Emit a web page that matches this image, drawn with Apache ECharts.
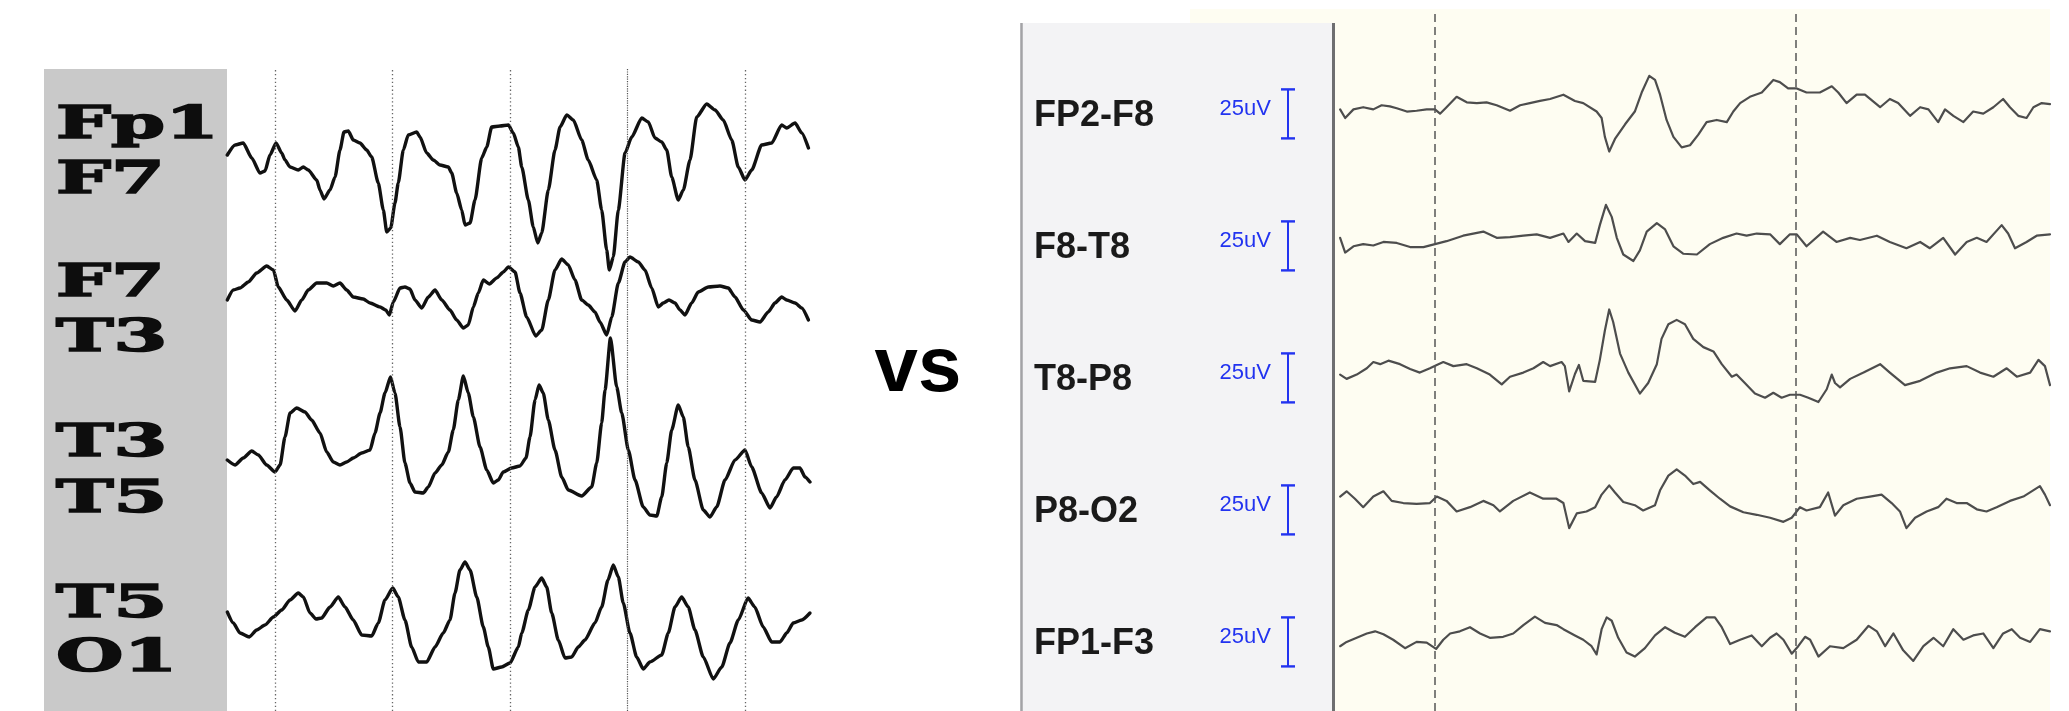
<!DOCTYPE html>
<html>
<head>
<meta charset="utf-8">
<script src="https://cdn.jsdelivr.net/npm/echarts/dist/echarts.min.js"></script>
<style>
  html, body { margin: 0; padding: 0; background: #ffffff; }
  #chart { width: 2069px; height: 711px; }
</style>
</head>
<body>
<div id="chart"></div>
<script>
// ---------- Left recording: bipolar chain, amplitudes in µV, time in s ----------
const leftChannels = [['Fp1', 'F7'], ['F7', 'T3'], ['T3', 'T5'], ['T5', 'O1']];
const leftSecondMarks = [1, 2, 3, 4, 5];

const leftFp1F7 = [[0.594,11],[0.660,21],[0.730,23],[0.802,8],[0.872,-7],[0.915,-5],[0.957,11],[1.009,23],[1.057,13],[1.085,6],[1.128,-1],[1.198,-4],[1.241,-1],[1.283,-4],[1.355,-14],[1.383,-24],[1.417,-33],[1.468,-24],[1.511,-11],[1.553,16],[1.587,34],[1.624,35],[1.666,26],[1.723,23],[1.780,16],[1.823,9],[1.879,-17],[1.922,-44],[1.951,-66],[1.985,-62],[2.021,-37],[2.049,-17],[2.092,16],[2.134,31],[2.206,34],[2.234,29],[2.291,13],[2.347,6],[2.404,1],[2.475,-1],[2.504,-7],[2.546,-27],[2.589,-44],[2.617,-59],[2.660,-57],[2.702,-34],[2.759,8],[2.802,19],[2.844,39],[2.915,40],[2.986,41],[3.028,33],[3.071,19],[3.100,-1],[3.156,-34],[3.198,-61],[3.236,-77],[3.270,-67],[3.326,-24],[3.383,16],[3.426,39],[3.483,51],[3.539,46],[3.610,26],[3.666,6],[3.738,-14],[3.780,-44],[3.823,-84],[3.845,-104],[3.879,-91],[3.922,-44],[3.979,13],[4.036,29],[4.121,48],[4.177,44],[4.234,28],[4.291,24],[4.334,16],[4.376,-11],[4.432,-34],[4.475,-24],[4.532,6],[4.589,49],[4.674,62],[4.745,56],[4.815,46],[4.887,26],[4.943,-1],[5.000,-14],[5.057,-4],[5.142,21],[5.227,23],[5.312,41],[5.355,38],[5.426,43],[5.483,33],[5.540,18]];

const leftF7T3 = [[0.594,18],[0.645,28],[0.702,30],[0.773,36],[0.844,45],[0.929,52],[0.986,48],[1.028,31],[1.100,18],[1.170,7],[1.228,18],[1.283,28],[1.355,35],[1.440,35],[1.496,32],[1.553,35],[1.610,28],[1.666,21],[1.751,19],[1.809,15],[1.894,11],[1.942,8],[1.973,3],[2.007,16],[2.064,30],[2.106,31],[2.149,29],[2.191,18],[2.249,10],[2.305,21],[2.362,28],[2.419,18],[2.489,8],[2.546,-2],[2.603,-10],[2.645,-7],[2.688,11],[2.730,25],[2.773,38],[2.824,34],[2.887,40],[2.943,46],[2.987,51],[3.043,46],[3.085,25],[3.142,1],[3.219,-18],[3.270,-12],[3.326,18],[3.383,48],[3.440,59],[3.496,53],[3.553,38],[3.610,18],[3.666,13],[3.723,6],[3.766,-4],[3.823,-17],[3.866,1],[3.922,35],[3.979,56],[4.021,61],[4.092,56],[4.149,48],[4.206,30],[4.262,11],[4.305,15],[4.353,18],[4.404,15],[4.447,8],[4.489,3],[4.546,15],[4.602,26],[4.688,31],[4.787,32],[4.858,30],[4.915,21],[4.986,8],[5.057,-2],[5.128,-4],[5.198,6],[5.255,15],[5.312,21],[5.355,18],[5.426,15],[5.483,10],[5.540,-2]];

const leftT3T5 = [[0.594,10],[0.660,5],[0.730,12],[0.802,19],[0.858,15],[0.929,5],[1.000,-2],[1.043,5],[1.085,33],[1.128,57],[1.185,62],[1.255,58],[1.312,50],[1.383,37],[1.440,18],[1.496,8],[1.553,5],[1.610,8],[1.666,12],[1.738,17],[1.809,20],[1.851,37],[1.894,57],[1.936,77],[1.983,93],[2.021,77],[2.064,43],[2.106,7],[2.149,-13],[2.191,-22],[2.262,-23],[2.305,-17],[2.362,-3],[2.419,5],[2.475,18],[2.517,40],[2.560,70],[2.603,94],[2.645,77],[2.688,53],[2.745,23],[2.802,0],[2.858,-13],[2.900,-10],[2.943,-2],[3.014,2],[3.085,4],[3.136,12],[3.170,33],[3.213,70],[3.247,85],[3.283,77],[3.326,50],[3.383,20],[3.440,-7],[3.496,-20],[3.610,-26],[3.695,-17],[3.738,7],[3.780,47],[3.809,80],[3.855,132],[3.908,83],[3.951,57],[4.007,20],[4.064,-10],[4.134,-37],[4.191,-45],[4.249,-46],[4.291,-27],[4.334,7],[4.376,40],[4.432,65],[4.475,53],[4.517,23],[4.574,-10],[4.645,-40],[4.702,-47],[4.759,-37],[4.830,-10],[4.915,10],[5.000,20],[5.057,3],[5.142,-23],[5.213,-38],[5.268,-27],[5.340,-10],[5.411,2],[5.468,2],[5.511,-7],[5.553,-12]];

const leftT5O1 = [[0.594,10],[0.645,-1],[0.702,-11],[0.781,-15],[0.844,-8],[0.915,-3],[0.986,5],[1.057,12],[1.128,22],[1.198,29],[1.241,25],[1.298,9],[1.349,3],[1.397,4],[1.468,15],[1.539,25],[1.596,15],[1.666,2],[1.738,-13],[1.823,-14],[1.879,-1],[1.936,22],[2.002,34],[2.049,25],[2.106,2],[2.163,-25],[2.220,-40],[2.291,-40],[2.362,-25],[2.432,-11],[2.489,2],[2.532,29],[2.574,52],[2.617,60],[2.660,52],[2.717,25],[2.773,-5],[2.815,-25],[2.858,-47],[2.929,-45],[3.000,-41],[3.071,-25],[3.100,-11],[3.156,12],[3.213,35],[3.270,44],[3.312,35],[3.355,9],[3.411,-18],[3.468,-36],[3.525,-35],[3.581,-25],[3.638,-18],[3.723,-1],[3.780,15],[3.834,42],[3.879,57],[3.922,45],[3.964,19],[4.021,-11],[4.078,-35],[4.134,-47],[4.191,-40],[4.291,-33],[4.347,-11],[4.404,15],[4.461,25],[4.517,15],[4.574,-8],[4.645,-35],[4.730,-57],[4.802,-45],[4.872,-21],[4.943,2],[5.026,24],[5.083,15],[5.155,-5],[5.227,-20],[5.298,-20],[5.355,-11],[5.411,-1],[5.483,2],[5.553,9]];

// ---------- Right recording: referential montage, amplitudes in µV, time in s ----------
const rightChannels = ['FP2-F8', 'F8-T8', 'T8-P8', 'P8-O2', 'FP1-F3'];
const rightSecondMarks = [1, 2];
const scaleBarUV = 25;
const scaleBarLabel = '25uV';

const rightFP2F8 = [[0.737,-0.7],[0.751,-5.1],[0.774,-0.7],[0.801,0.4],[0.829,-0.7],[0.852,1.4],[0.875,0.8],[0.894,-0.1],[0.922,-1.8],[0.949,-1.4],[0.977,-0.7],[1.000,-0.7],[1.014,-2.9],[1.032,0.4],[1.060,5.7],[1.088,2.9],[1.116,2.5],[1.143,2.9],[1.171,1.4],[1.208,-1.4],[1.236,1.4],[1.263,2.5],[1.291,3.6],[1.319,4.6],[1.356,6.8],[1.388,3.6],[1.411,2.5],[1.448,-1.8],[1.462,-5.1],[1.471,-14.7],[1.483,-22.2],[1.499,-15.8],[1.527,-8.3],[1.554,-1.8],[1.573,7.9],[1.594,16.4],[1.610,14.3],[1.624,6.8],[1.642,-6.1],[1.661,-14.7],[1.684,-20.1],[1.707,-19],[1.730,-13.6],[1.753,-7.2],[1.781,-6.1],[1.809,-7.2],[1.827,-1.8],[1.846,2.5],[1.873,5.7],[1.906,7.9],[1.938,14.3],[1.956,13.2],[1.979,10],[2.003,10],[2.030,7.9],[2.067,7.9],[2.100,11.1],[2.118,7.9],[2.141,2.5],[2.169,6.8],[2.192,6.8],[2.234,0.4],[2.261,4.6],[2.284,2.5],[2.317,-4],[2.345,0.4],[2.368,-0.7],[2.395,-7.2],[2.414,-0.7],[2.437,-4],[2.465,-7.2],[2.492,-1.8],[2.520,-2.9],[2.548,0.4],[2.575,4.6],[2.594,0.4],[2.617,-4],[2.640,-5.1],[2.659,0.4],[2.682,2.5],[2.705,2]];

const rightF8T8 = [[0.737,1.1],[0.751,-6.4],[0.774,-3.2],[0.801,-2.1],[0.829,-2.8],[0.857,-1],[0.894,-1.5],[0.931,-3.6],[0.968,-3.6],[1.000,-2.1],[1.032,-0.6],[1.078,2.2],[1.134,4.3],[1.171,1.1],[1.208,1.5],[1.245,2.2],[1.282,2.9],[1.319,1.1],[1.356,3.3],[1.370,-1],[1.393,3.3],[1.416,-0.6],[1.444,-1.5],[1.457,7.6],[1.474,17.9],[1.490,11.8],[1.504,1.1],[1.522,-7.4],[1.550,-10.7],[1.568,-5.3],[1.587,4.3],[1.615,8.6],[1.638,5.4],[1.661,-3.2],[1.688,-7],[1.726,-7.4],[1.762,-2.1],[1.799,1.1],[1.836,3.3],[1.864,2.2],[1.892,3.3],[1.929,2.9],[1.956,-2.1],[1.984,2.9],[2.003,2.9],[2.030,-3.2],[2.076,4.3],[2.113,-1],[2.151,1.1],[2.178,0],[2.225,2.2],[2.261,-1],[2.307,-4.2],[2.345,-1],[2.372,-4.2],[2.409,1.1],[2.442,-7.4],[2.474,-1],[2.502,1.1],[2.529,-1],[2.571,7.6],[2.589,3.3],[2.608,-4.2],[2.640,-1],[2.668,2.2],[2.705,2.9]];

const rightT8P8 = [[0.737,-1.3],[0.755,-3.5],[0.783,-1.3],[0.811,1.9],[0.829,5.1],[0.848,4],[0.871,5.8],[0.903,4],[0.931,1.5],[0.958,-0.3],[0.986,1.9],[1.005,3.6],[1.023,5.1],[1.051,3],[1.088,4],[1.116,1.9],[1.152,-1.3],[1.185,-6.3],[1.208,-2.4],[1.245,-0.3],[1.273,1.9],[1.300,5.1],[1.319,3],[1.351,5.1],[1.360,3],[1.372,-9.9],[1.388,-1],[1.399,3.6],[1.411,-4.5],[1.444,-5],[1.457,6.2],[1.471,21.2],[1.483,31.9],[1.494,25.5],[1.513,9.4],[1.536,-0.3],[1.568,-11],[1.591,-5.6],[1.615,4],[1.628,16.9],[1.647,24.4],[1.670,26.6],[1.693,24.4],[1.716,16.9],[1.744,12.7],[1.772,10.5],[1.795,4],[1.823,-2.4],[1.836,-1.3],[1.859,-5.6],[1.887,-11],[1.915,-13.1],[1.938,-10.6],[1.961,-13.1],[1.984,-11.6],[2.012,-11.6],[2.035,-13.1],[2.063,-15.3],[2.086,-8.8],[2.100,-1.3],[2.109,-5.6],[2.123,-7.8],[2.151,-3.5],[2.188,-0.3],[2.234,4],[2.261,-0.3],[2.303,-6.7],[2.345,-4.5],[2.391,-0.3],[2.428,1.9],[2.474,3],[2.511,-0.3],[2.548,-2.4],[2.585,1.9],[2.613,-2.4],[2.650,-0.3],[2.673,6.2],[2.691,3],[2.705,-6.7]];

const rightP8O2 = [[0.737,3.8],[0.755,6.5],[0.778,2.7],[0.801,-1.6],[0.829,3.8],[0.857,6.5],[0.880,1.6],[0.912,0.5],[0.949,0.1],[0.986,0.5],[1.005,3.8],[1.032,1.6],[1.060,-3.8],[1.097,-1.6],[1.134,1.6],[1.162,-0.6],[1.180,-3.8],[1.217,1.6],[1.263,5.9],[1.300,2.7],[1.337,2.7],[1.356,0.5],[1.372,-12.3],[1.393,-4.8],[1.420,-3.8],[1.444,-1.6],[1.462,4.8],[1.483,9.5],[1.499,5.9],[1.522,1],[1.554,-0.6],[1.577,-3.3],[1.610,-0.6],[1.624,7],[1.647,14.5],[1.670,17.7],[1.693,14.5],[1.716,10.2],[1.735,11.3],[1.762,7],[1.790,2.7],[1.818,-1.2],[1.855,-4.2],[1.892,-5.5],[1.929,-7],[1.966,-9.1],[1.989,-7],[2.012,-1.6],[2.030,-3.3],[2.067,-1.6],[2.090,5.9],[2.109,-5.9],[2.132,-0.6],[2.169,2.7],[2.206,3.8],[2.238,4.8],[2.266,0.5],[2.289,-3.8],[2.307,-12.3],[2.331,-7],[2.363,-3.8],[2.395,-1.6],[2.418,2.7],[2.446,0.5],[2.474,0.5],[2.502,-2.7],[2.529,-3.8],[2.557,-1.6],[2.594,1.6],[2.631,3.8],[2.677,9.1],[2.691,4.8],[2.705,-0.6]];

const rightFP1F3 = [[0.737,-5.2],[0.755,-3],[0.783,-0.9],[0.811,1.3],[0.834,2.4],[0.857,0.9],[0.884,-1.9],[0.917,-6.2],[0.949,-3],[0.977,-3.4],[1.003,-6.6],[1.023,-1.9],[1.042,1.3],[1.069,2.4],[1.097,4.5],[1.125,1.3],[1.152,-0.9],[1.189,-0.4],[1.217,1.3],[1.245,5.6],[1.277,9.9],[1.305,6.7],[1.337,5.6],[1.356,3.5],[1.388,0.3],[1.411,-1.9],[1.434,-5.2],[1.448,-9.4],[1.462,3.5],[1.476,9.5],[1.490,7.8],[1.508,-0.9],[1.531,-8.4],[1.554,-10.5],[1.582,-6.2],[1.610,0.3],[1.638,4.5],[1.665,1.7],[1.693,-0.4],[1.721,4.5],[1.753,9.5],[1.776,9.5],[1.795,4.5],[1.818,-4.1],[1.846,-1.9],[1.878,0.3],[1.906,-5.2],[1.929,-0.9],[1.947,1.3],[1.966,-1.9],[1.989,-9],[2.007,-5.2],[2.026,-0.4],[2.040,-1.9],[2.063,-10.5],[2.095,-5.2],[2.132,-6.2],[2.169,-1.9],[2.202,5.2],[2.225,2.4],[2.248,-5.2],[2.271,1.3],[2.298,-7.3],[2.326,-12.7],[2.354,-5.2],[2.382,-0.9],[2.409,-5.2],[2.437,3.5],[2.465,-1.9],[2.492,0.3],[2.520,1.3],[2.548,-6.2],[2.575,1.3],[2.599,3.5],[2.622,-0.9],[2.650,-3],[2.677,3.5],[2.705,2.4]];

const leftTraces = [leftFp1F7, leftF7T3, leftT3T5, leftT5O1];
const rightTraces = [rightFP2F8, rightF8T8, rightT8P8, rightP8O2, rightFP1F3];

// ---------- Layout ----------
const LEFT_SPACING = 152;          // µV between stacked left channels
const RIGHT_SPACING = 67.35;       // µV between stacked right channels
const RIGHT_BAR_TOP = 9.5;         // top of each calibration bar, µV above the channel baseline

const chart = echarts.init(document.getElementById('chart'), null, { renderer: 'canvas' });

const series = [];

leftTraces.forEach((trace, k) => {
  const s = {
    type: 'line',
    xAxisIndex: 0, yAxisIndex: 0,
    data: trace.map(([t, v]) => [t, v - k * LEFT_SPACING]),
    symbol: 'none', smooth: 0.2, smoothMonotone: 'x', clip: false, silent: true,
    lineStyle: { color: '#111111', width: 3.4, cap: 'round', join: 'round' },
    z: 3
  };
  if (k === 0) {
    s.markLine = {
      silent: true, symbol: ['none', 'none'], label: { show: false },
      data: leftSecondMarks.map(t => ({
        xAxis: t,
        lineStyle: t === 4
          ? { color: '#555555', width: 1.2, type: [1.2, 1.2] }
          : { color: '#666666', width: 1.3, type: [1.3, 2.6] }
      }))
    };
  }
  series.push(s);
});

rightTraces.forEach((trace, k) => {
  const s = {
    type: 'line',
    xAxisIndex: 1, yAxisIndex: 1,
    data: trace.map(([t, v]) => [t, v - k * RIGHT_SPACING]),
    symbol: 'none', smooth: false, clip: false, silent: true,
    lineStyle: { color: '#4d4d4d', width: 2.2, cap: 'round', join: 'round' },
    z: 3
  };
  if (k === 0) {
    s.markLine = {
      silent: true, symbol: ['none', 'none'], label: { show: false },
      data: rightSecondMarks.map(t => ({ xAxis: t })),
      lineStyle: { color: '#555555', width: 1.5, type: [8, 5] }
    };
  }
  series.push(s);
});

// Channel names, amplitude labels and 25 µV calibration bars of the right recording
series.push({
  type: 'custom',
  xAxisIndex: 2, yAxisIndex: 2,
  clip: false, silent: true, z: 4,
  data: rightChannels.map((name, k) => [0.5, -k * RIGHT_SPACING, k]),
  renderItem: (params, api) => {
    const c = api.value(1);
    const name = rightChannels[api.value(2)];
    const base = api.coord([0.5, c]);
    const top = api.coord([0.5, c + RIGHT_BAR_TOP]);
    const bot = api.coord([0.5, c + RIGHT_BAR_TOP - scaleBarUV]);
    const x = base[0];
    const blue = '#2233f0';
    return {
      type: 'group',
      children: [
        { type: 'line', shape: { x1: x, y1: top[1], x2: x, y2: bot[1] }, style: { stroke: blue, lineWidth: 2 } },
        { type: 'line', shape: { x1: x - 7, y1: top[1], x2: x + 7, y2: top[1] }, style: { stroke: blue, lineWidth: 2.4 } },
        { type: 'line', shape: { x1: x - 7, y1: bot[1], x2: x + 7, y2: bot[1] }, style: { stroke: blue, lineWidth: 2.4 } },
        { type: 'text', x: x - 17, y: base[1] + 1,
          style: { text: scaleBarLabel, fill: blue, font: '22px "Liberation Sans"', textAlign: 'right', textVerticalAlign: 'middle' } },
        { type: 'text', x: 1034, y: base[1] + 8,
          style: { text: name, fill: '#1a1a1a', font: 'bold 36px "Liberation Sans"', textAlign: 'left', textVerticalAlign: 'middle' } }
      ]
    };
  }
});

// Two-line electrode labels of the left recording
const leftLabelBaselines = [[140, 195], [298, 353], [458, 514], [619, 673]];
const leftLabelGraphics = [];
leftChannels.forEach((pair, k) => {
  pair.forEach((txt, j) => {
    leftLabelGraphics.push({
      type: 'text', x: 56, y: leftLabelBaselines[k][j] - 14, scaleX: 1.72, z: 5,
      style: {
        text: txt, fill: '#0d0d0d', stroke: '#0d0d0d', lineWidth: 1.6,
        font: 'bold 45px "DejaVu Serif"', textAlign: 'left', textVerticalAlign: 'middle'
      }
    });
  });
});

const option = {
  animation: false,
  backgroundColor: '#ffffff',
  grid: [
    { left: 227, top: 69, width: 584, height: 642 },
    { left: 1335, top: 9, width: 715, height: 702 },
    { left: 1268, top: 9, width: 40, height: 702 }
  ],
  xAxis: [
    { type: 'value', gridIndex: 0, min: 0.5915, max: 5.5617, show: false },
    { type: 'value', gridIndex: 1, min: 0.7228, max: 2.705, show: false },
    { type: 'value', gridIndex: 2, min: 0, max: 1, show: false }
  ],
  yAxis: [
    { type: 'value', gridIndex: 0, min: -3 * LEFT_SPACING - 89, max: 97, show: false },
    { type: 'value', gridIndex: 1, min: -4.568 * RIGHT_SPACING, max: 0.75 * RIGHT_SPACING, show: false },
    { type: 'value', gridIndex: 2, min: -4.568 * RIGHT_SPACING, max: 0.75 * RIGHT_SPACING, show: false }
  ],
  graphic: [
    // right recording: paper background and montage side panel
    { type: 'rect', shape: { x: 1190, y: 9, width: 860, height: 702 }, style: { fill: '#fefdf2' }, z: 0 },
    { type: 'rect', shape: { x: 1020, y: 23, width: 313, height: 688 }, style: { fill: '#f3f3f5' }, z: 1 },
    { type: 'line', shape: { x1: 1021.5, y1: 23, x2: 1021.5, y2: 711 }, style: { stroke: '#a3a3a6', lineWidth: 2.5 }, z: 1 },
    { type: 'line', shape: { x1: 1333.5, y1: 23, x2: 1333.5, y2: 711 }, style: { stroke: '#6e6e70', lineWidth: 3 }, z: 1 },
    // left recording: label column
    { type: 'rect', shape: { x: 44, y: 69, width: 183, height: 642 }, style: { fill: '#c9c9c9' }, z: 1 },
    // comparison mark
    { type: 'text', x: 918, y: 369, z: 5,
      style: { text: 'vs', fill: '#000000', font: 'bold 78px "Liberation Sans"', textAlign: 'center', textVerticalAlign: 'middle' } }
  ].concat(leftLabelGraphics),
  series: series
};

chart.setOption(option);
</script>
</body>
</html>
